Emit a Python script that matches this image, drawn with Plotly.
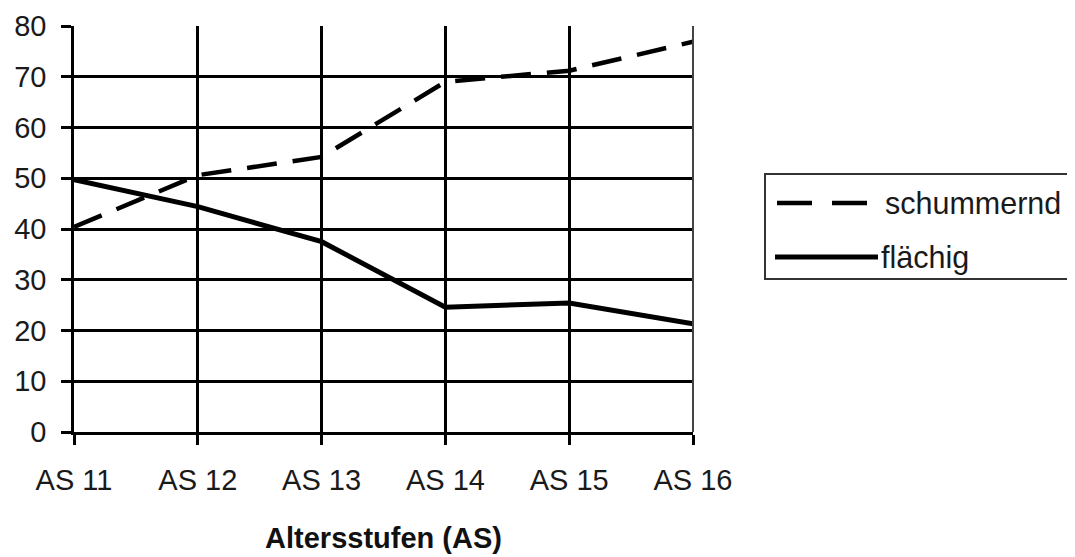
import plotly.graph_objects as go

categories = ["AS 11", "AS 12", "AS 13", "AS 14", "AS 15", "AS 16"]
schummernd = [40.4, 50.6, 54.2, 69.0, 71.2, 76.9]
flaechig = [49.7, 44.4, 37.5, 24.6, 25.4, 21.3]
y_ticks = [0, 10, 20, 30, 40, 50, 60, 70, 80]
x_title = "Altersstufen (AS)"
names = ["schummernd", "flächig"]

FONT = "Liberation Sans, Arial, sans-serif"
OFF = 8  # page body margin compensation

L, T, W, H = 74 - OFF, 26 - OFF, 619, 406

fig = go.Figure()
fig.add_trace(go.Scatter(x=categories, y=schummernd, mode="lines", name=names[0],
                         line=dict(color="black", width=4.5, dash="30px,16px"), showlegend=False))
fig.add_trace(go.Scatter(x=categories, y=flaechig, mode="lines", name=names[1],
                         line=dict(color="black", width=5), showlegend=False))

fig.update_layout(
    width=1075, height=557,
    margin=dict(l=L, r=1075 - L - W, t=T, b=557 - T - H, autoexpand=False),
    paper_bgcolor="white", plot_bgcolor="white",
    font=dict(family=FONT, size=29, color="#1a1a1a"),
    xaxis=dict(range=[0, 5], showgrid=True, gridcolor="black", gridwidth=2.5,
               ticks="outside", ticklen=10, tickwidth=2.5, tickcolor="black",
               showline=True, linecolor="black", linewidth=2.5,
               tickfont=dict(size=29), zeroline=False, ticklabelstandoff=10,
               automargin=False,
               title=dict(text="<b>" + x_title + "</b>", font=dict(size=29, color="#111"), standoff=34)),
    yaxis=dict(range=[0, 80], tickvals=y_ticks, showgrid=True, gridcolor="black", gridwidth=2.5,
               ticks="outside", ticklen=10, tickwidth=2.5, tickcolor="black",
               showline=True, linecolor="black", linewidth=2.5, zeroline=False,
               tickfont=dict(size=29), ticklabelstandoff=9, automargin=False),
)

# right border at last category
fig.add_shape(type="line", xref="paper", yref="paper", x0=1, x1=1, y0=0, y1=1,
              line=dict(color="#444", width=2))

# custom legend (positions given in reference pixel coords)
def px_x(px):
    return (px - OFF - L) / float(W)

def px_y(py):
    return (T + H - (py - OFF)) / float(H)

fig.add_shape(type="rect", xref="paper", yref="paper",
              x0=px_x(765), x1=px_x(1073), y0=px_y(279), y1=px_y(174),
              line=dict(color="#333", width=2), fillcolor="white")
fig.add_shape(type="line", xref="paper", yref="paper",
              x0=px_x(777), x1=px_x(868), y0=px_y(203), y1=px_y(203),
              line=dict(color="black", width=4.5, dash="35px,20px"))
fig.add_shape(type="line", xref="paper", yref="paper",
              x0=px_x(775), x1=px_x(878), y0=px_y(257), y1=px_y(257),
              line=dict(color="black", width=5))
fig.add_annotation(xref="paper", yref="paper", x=px_x(883), y=px_y(203), text=names[0],
                   showarrow=False, xanchor="left", yanchor="middle",
                   font=dict(family=FONT, size=30.5, color="#1a1a1a"))
fig.add_annotation(xref="paper", yref="paper", x=px_x(879), y=px_y(257), text=names[1],
                   showarrow=False, xanchor="left", yanchor="middle",
                   font=dict(family=FONT, size=30.5, color="#1a1a1a"))

fig.write_html("out.html")
